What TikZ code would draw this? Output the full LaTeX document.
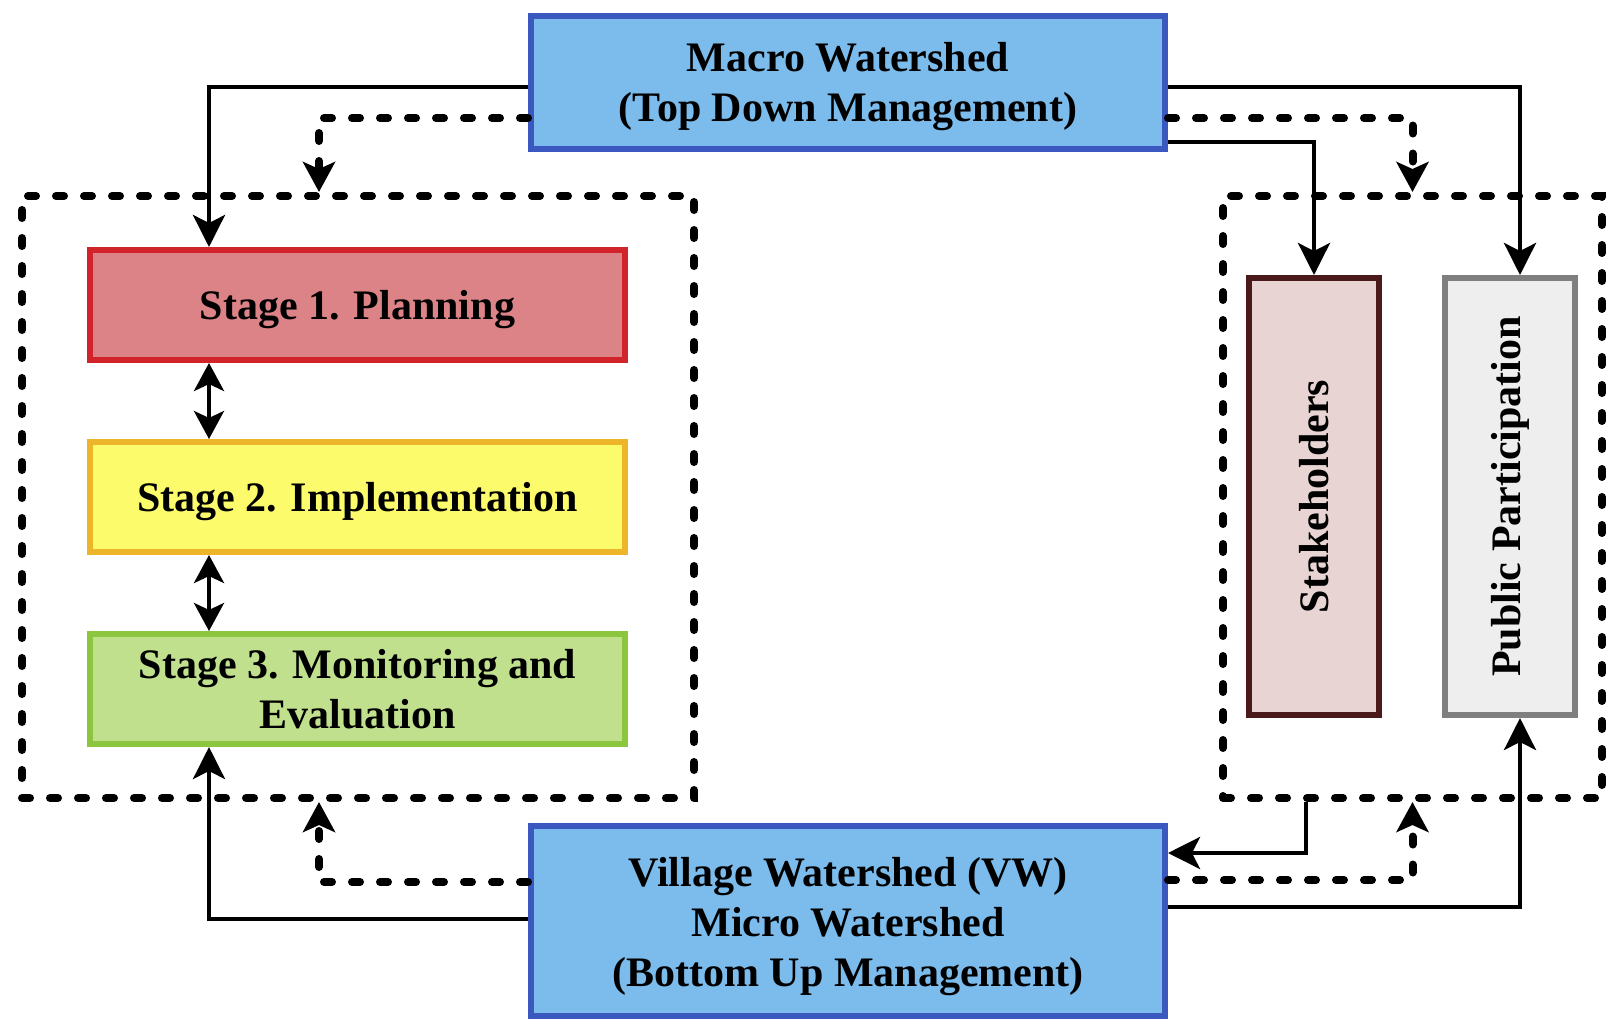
\documentclass[tikz,border=0pt]{standalone}
\usepackage{fontspec}
\setmainfont{Liberation Serif}
\usepackage{graphicx}
\usetikzlibrary{arrows.meta}
\definecolor{macrofill}{HTML}{7CBCEC}
\definecolor{macroline}{HTML}{3A58C0}
\definecolor{s1fill}{HTML}{DB8386}
\definecolor{s1line}{HTML}{D2232A}
\definecolor{s2fill}{HTML}{FBFB6B}
\definecolor{s2line}{HTML}{EDB52A}
\definecolor{s3fill}{HTML}{C0E08E}
\definecolor{s3line}{HTML}{8CC63F}
\definecolor{shfill}{HTML}{E8D4D3}
\definecolor{shline}{HTML}{4A1A1A}
\definecolor{ppfill}{HTML}{EEEEEE}
\definecolor{ppline}{HTML}{7F7F7F}
\begin{document}
\begin{tikzpicture}[x=0.5pt,y=-0.5pt,
  box/.style={draw, line width=3pt, align=center, inner sep=0pt,
    font=\bfseries\fontsize{21pt}{25pt}\selectfont},
  conn/.style={line width=2.2pt, -{Stealth[length=16pt,width=16pt,inset=4pt]}},
  dconn/.style={line width=4pt, line cap=round, dash pattern=on 4pt off 10pt,
    -{Stealth[length=15pt,width=16pt,inset=3.5pt]}},
  twoway/.style={line width=2.2pt, {Stealth[length=14pt,width=15pt,inset=3.5pt]}-{Stealth[length=14pt,width=15pt,inset=3.5pt]}},
  container/.style={draw, line width=4pt, line cap=round, dash pattern=on 4pt off 10pt, inner sep=0pt}
]
\fill[white] (0,0) rectangle (1614,1024);
\useasboundingbox (0,0) rectangle (1614,1024);

% dashed containers
\node[container, minimum width=336pt, minimum height=301pt] (lc) at (358,497) {};
\node[container, minimum width=189.5pt, minimum height=301pt] (rc) at (1412.5,497) {};

% main boxes
\node[box, fill=macrofill, draw=macroline, minimum width=317pt, minimum height=66.5pt,
  text height=41.5pt, text depth=2.3pt] (macro) at (848,82.5)
  {Macro Watershed\\(Top Down Management)};
\node[box, fill=macrofill, draw=macroline, minimum width=317pt, minimum height=95pt,
  text height=67.5pt, text depth=1.6pt] (vil) at (848,921)
  {Village Watershed (VW)\\Micro Watershed\\(Bottom Up Management)};

\node[box, fill=s1fill, draw=s1line, minimum width=267.5pt, minimum height=55pt,
  text height=16.7pt, text depth=2pt] (s1) at (357.5,305)
  {Stage 1. Planning};
\node[box, fill=s2fill, draw=s2line, minimum width=267.5pt, minimum height=55pt,
  text height=16.7pt, text depth=2pt] (s2) at (357.5,497)
  {Stage 2. Implementation};
\node[box, fill=s3fill, draw=s3line, minimum width=267.5pt, minimum height=55pt] (s3) at (357.5,689)
  {Stage 3. Monitoring and\\Evaluation};

\node[box, fill=shfill, draw=shline, minimum width=65pt, minimum height=218.5pt] (sh) at (1314,496.5)
  {\rotatebox{90}{Stakeholders}};
\node[box, fill=ppfill, draw=ppline, minimum width=65pt, minimum height=218.5pt] (pp) at (1510,496.5)
  {\rotatebox{90}{Public Participation}};

% top connectors
\draw[conn] ([yshift=-2.25pt]macro.west) -| ([xshift=-74.25pt]s1.north);
\draw[dconn] ([yshift=-17.75pt]macro.west) -| ([xshift=-19.5pt]lc.north);
\draw[conn] ([yshift=-2.25pt]macro.east) -| ([xshift=5pt]pp.north);
\draw[dconn] ([yshift=-17.75pt]macro.east) -| (rc.north);
\draw[conn] ([yshift=-29.75pt]macro.east) -| (sh.north);

% stage links
\draw[twoway] ([xshift=-74.25pt]s1.south) -- ([xshift=-74.25pt]s2.north);
\draw[twoway] ([xshift=-74.25pt]s2.south) -- ([xshift=-74.25pt]s3.north);

% bottom connectors
\draw[conn] ([yshift=1pt]vil.west) -| ([xshift=-74.25pt]s3.south);
\draw[dconn] ([yshift=19.5pt]vil.west) -| ([xshift=-19.5pt]lc.south);
\draw[conn] ([xshift=-53.25pt]rc.south) |- ([yshift=34pt]vil.east);
\draw[dconn] ([yshift=20.5pt]vil.east) -| (rc.south);
\draw[conn] ([yshift=7pt]vil.east) -| ([xshift=5pt]pp.south);
\end{tikzpicture}
\end{document}
